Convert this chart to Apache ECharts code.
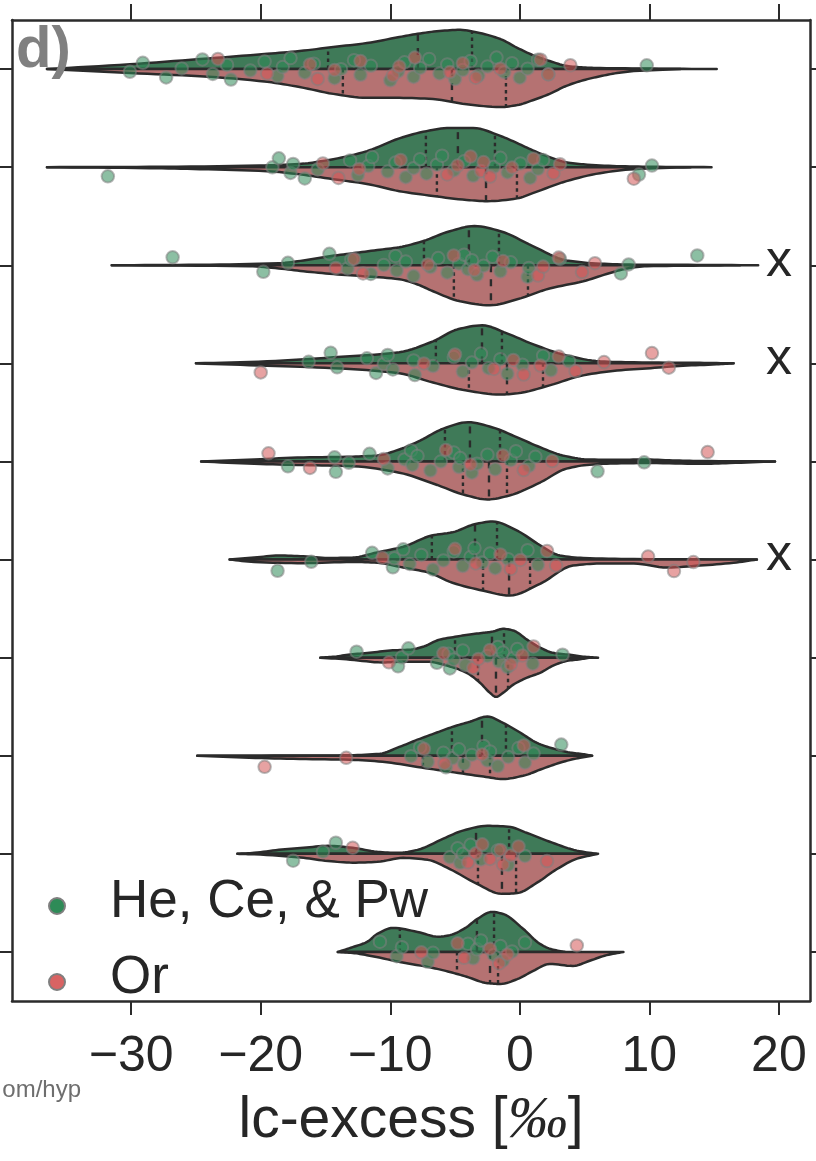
<!DOCTYPE html>
<html><head><meta charset="utf-8">
<script src="https://cdn.jsdelivr.net/npm/echarts@6/dist/echarts.min.js"></script>
<style>html,body{margin:0;padding:0;background:#fff}#c{width:816px;height:1161px}</style>
</head><body><div id="c"></div>
<script>
// ---------------- data ----------------
const rowNames = ['r1','r2','r3','r4','r5','r6','r7','r8','r9','r10']; // row labels are cropped in the original
const xTicks = [-30, -20, -10, 0, 10, 20];
const groupNames = ['He, Ce, & Pw', 'Or'];
const markedRows = [2, 3, 5];   // rows flagged with an "x"
const markValue = 20;

// violin density profiles: [lc-excess, relative density]
const heProfiles = [
 [[-36.5,0],[-30.1,0.12],[-24.7,0.25],[-19.5,0.38],[-17.0,0.45],[-14.4,0.55],[-11.8,0.65],[-9.3,0.8],[-7.9,0.88],[-6.2,0.95],[-4.6,0.98],[-3.1,0.9],[-1.5,0.75],[-0.2,0.53],[1.0,0.35],[2.3,0.2],[3.6,0.08],[4.9,0.04],[6.2,0.025],[10.1,0.012],[15.2,0]],
 [[-36.5,0],[-28.6,0.008],[-20.1,0.04],[-17.0,0.08],[-14.4,0.2],[-11.8,0.4],[-9.3,0.72],[-7.2,0.9],[-5.4,0.98],[-3.6,0.98],[-1.5,0.78],[-0.2,0.6],[1.0,0.42],[2.3,0.25],[3.6,0.12],[4.9,0.07],[7.5,0.025],[10.1,0.01],[14.8,0]],
 [[-31.5,0],[-24.7,0.012],[-18.6,0.05],[-16.7,0.12],[-14.8,0.22],[-12.9,0.3],[-11.0,0.38],[-9.3,0.45],[-7.5,0.6],[-5.4,0.85],[-3.5,0.98],[-1.5,0.85],[1.0,0.48],[3.6,0.12],[6.2,0.04],[8.8,0.015],[13.0,0.01],[18.4,0]],
 [[-25.0,0],[-19.5,0.05],[-14.4,0.15],[-9.3,0.28],[-6.7,0.55],[-4.8,0.85],[-2.9,0.95],[-1.0,0.75],[1.0,0.48],[3.6,0.2],[6.2,0.05],[8.8,0.025],[13.9,0.012],[16.5,0]],
 [[-24.6,0],[-20.5,0.05],[-16.7,0.1],[-12.9,0.12],[-11.0,0.15],[-9.3,0.3],[-7.7,0.52],[-5.9,0.82],[-4.0,0.98],[-2.1,0.85],[-0.2,0.6],[1.6,0.35],[3.3,0.15],[5.2,0.05],[7.5,0.04],[9.5,0.05],[11.8,0.025],[13.9,0.012],[19.7,0]],
 [[-22.4,0],[-20.5,0.05],[-18.6,0.1],[-16.7,0.08],[-14.8,0.04],[-12.9,0.05],[-11.0,0.18],[-9.0,0.32],[-6.8,0.6],[-5.2,0.68],[-3.5,0.88],[-2.1,0.95],[-0.2,0.72],[1.6,0.35],[3.1,0.1],[4.9,0.04],[8.8,0.012],[18.3,0]],
 [[-15.4,0],[-14.3,0.025],[-13.1,0.08],[-11.6,0.12],[-10.0,0.18],[-8.5,0.2],[-7.4,0.28],[-6.2,0.45],[-5.0,0.52],[-3.85,0.58],[-2.8,0.62],[-2.1,0.65],[-1.3,0.72],[-0.53,0.68],[0.56,0.45],[1.56,0.25],[2.57,0.12],[3.88,0.07],[4.88,0.025],[6.04,0]],
 [[-24.9,0],[-17.0,0.005],[-13.1,0.012],[-10.8,0.05],[-9.3,0.22],[-7.9,0.4],[-6.4,0.58],[-5.2,0.72],[-3.85,0.85],[-2.5,0.98],[-1.3,0.82],[0.02,0.58],[1.33,0.32],[2.57,0.18],[3.88,0.08],[4.88,0.04],[5.58,0]],
 [[-21.8,0],[-20.5,0.025],[-18.6,0.1],[-16.7,0.15],[-14.8,0.2],[-12.9,0.15],[-11.0,0.05],[-9.4,0.025],[-7.9,0.1],[-5.9,0.38],[-4.4,0.58],[-2.5,0.7],[-0.9,0.68],[0.56,0.52],[2.5,0.28],[4.4,0.08],[5.9,0]],
 [[-14.05,0],[-12.9,0.12],[-11.8,0.25],[-11.0,0.45],[-9.8,0.6],[-7.9,0.5],[-6.3,0.38],[-5.4,0.42],[-4.2,0.6],[-3.3,0.82],[-2.15,1.0],[-1.3,0.95],[0.25,0.58],[1.56,0.2],[2.33,0.08],[3.26,0.012],[3.5,0]]
];
const orProfiles = [
 [[-36.5,0],[-30.1,0.1],[-24.7,0.18],[-19.5,0.32],[-17.0,0.45],[-14.4,0.62],[-11.8,0.72],[-9.3,0.72],[-6.7,0.75],[-4.1,0.88],[-1.5,0.95],[-0.2,0.9],[1.0,0.78],[2.3,0.62],[3.6,0.42],[4.9,0.28],[6.2,0.18],[7.5,0.1],[8.8,0.05],[12.4,0]],
 [[-36.5,0],[-28.6,0.025],[-24.7,0.05],[-19.5,0.1],[-17.0,0.18],[-14.4,0.3],[-11.8,0.42],[-9.3,0.6],[-6.7,0.72],[-4.1,0.82],[-2.5,0.85],[-0.2,0.78],[1.0,0.65],[3.6,0.35],[6.2,0.15],[8.8,0.05],[13.2,0]],
 [[-31.5,0],[-20.9,0.025],[-18.6,0.08],[-16.7,0.15],[-14.4,0.22],[-11.8,0.28],[-9.3,0.35],[-7.9,0.48],[-6.7,0.65],[-4.6,0.9],[-2.3,1.0],[-0.2,0.85],[2.3,0.58],[4.9,0.4],[6.7,0.22],[8.3,0.08],[9.8,0.025],[13.9,0.008],[17.0,0]],
 [[-25.0,0],[-19.5,0.06],[-14.4,0.12],[-9.3,0.25],[-6.7,0.48],[-4.1,0.68],[-1.5,0.78],[-0.2,0.75],[2.3,0.55],[4.9,0.3],[7.5,0.18],[10.1,0.12],[12.6,0.06],[15.2,0.025],[16.5,0]],
 [[-24.6,0],[-20.5,0.06],[-16.7,0.09],[-12.9,0.12],[-9.3,0.28],[-6.7,0.55],[-4.1,0.85],[-2.5,0.95],[-0.8,0.85],[1.6,0.52],[3.6,0.18],[5.4,0.08],[7.5,0.05],[10.1,0.04],[13.9,0.06],[16.2,0.04],[19.7,0]],
 [[-22.4,0],[-20.5,0.06],[-16.7,0.09],[-12.9,0.06],[-11.0,0.08],[-9.0,0.2],[-7.1,0.32],[-5.2,0.58],[-2.8,0.78],[-0.8,0.9],[1.6,0.6],[4.1,0.15],[6.2,0.1],[8.8,0.1],[11.4,0.2],[13.9,0.15],[16.5,0.08],[18.3,0]],
 [[-15.4,0],[-13.1,0.05],[-10.6,0.12],[-9.0,0.1],[-7.2,0.1],[-5.4,0.22],[-4.1,0.38],[-3.1,0.62],[-2.3,0.88],[-1.84,0.98],[-1.3,0.88],[-0.53,0.68],[0.56,0.5],[1.56,0.38],[2.57,0.2],[3.65,0.08],[4.65,0.04],[5.43,0]],
 [[-24.9,0],[-20.9,0.05],[-17.0,0.08],[-13.1,0.1],[-10.6,0.15],[-7.9,0.28],[-5.4,0.4],[-2.8,0.52],[-1.3,0.58],[0.25,0.5],[1.79,0.32],[3.34,0.15],[4.65,0.05],[5.58,0]],
 [[-21.8,0],[-20.5,0.012],[-16.7,0.1],[-14.8,0.18],[-12.9,0.22],[-11.0,0.2],[-9.0,0.1],[-7.1,0.15],[-5.4,0.38],[-3.3,0.75],[-1.4,1.0],[-0.2,0.98],[1.33,0.72],[2.87,0.38],[4.42,0.12],[5.66,0.025],[6.04,0]],
 [[-14.05,0],[-12.9,0.025],[-11.8,0.08],[-9.26,0.25],[-6.7,0.4],[-5.4,0.5],[-4.1,0.62],[-2.5,0.78],[-1.5,0.8],[-0.2,0.68],[1.0,0.48],[2.3,0.3],[4.1,0.35],[5.4,0.22],[6.7,0.08],[8.0,0]]
];

// quartiles [q1, median, q3]
const heQuartiles = [[-14.8,-7.87,-3.69],[-7.25,-4.78,-1.92],[-7.4,-3.93,-1.61],[-6.48,-2.92,-1.38],[-5.78,-3.85,-1.53],[-6.79,-3.46,-1.76],[-5.0,-2.15,-1.22],[-5.24,-2.92,-1.07],[-9.41,-3.38,-0.83],[-9.26,-3.31,-1.99]];
const orQuartiles = [[-13.66,-5.24,-1.07],[-6.4,-2.61,-0.22],[-5.09,-2.23,0.63],[-3.93,-0.99,1.79],[-4.39,-2.38,-0.99],[-2.84,-0.83,0.79],[-3.23,-1.84,-0.91],[-7.48,-4.39,-2.3],[-3.23,-1.38,-0.29],[-4.85,-2.3,-1.68]];

// individual observations
const hePoints = [
 [-30.1,-29.1,-27.3,-26.1,-24.5,-23.7,-22.6,-22.3,-20.8,-19.7,-18.7,-18.3,-17.7,-16.6,-15.9,-14.3,-13.8,-12.8,-12.3,-11.5,-10.0,-9.4,-8.9,-8.2,-7.7,-7.0,-6.2,-5.6,-5.0,-4.4,-3.8,-3.2,-2.5,-1.8,-1.2,-0.6,0.0,0.6,1.4,2.2,9.8],
 [-31.8,-19.1,-18.6,-17.7,-17.5,-16.6,-15.6,-13.1,-12.5,-11.7,-11.4,-10.2,-9.6,-8.8,-8.2,-7.7,-7.2,-6.4,-6.0,-5.1,-4.3,-3.6,-2.0,-1.5,-0.95,0.05,0.8,1.4,1.8,9.2,10.2],
 [-26.8,-19.8,-17.9,-14.7,-13.3,-13.0,-11.5,-10.5,-9.6,-9.5,-8.8,-8.2,-6.9,-6.3,-5.6,-4.7,-4.3,-4.0,-3.7,-3.3,-2.8,-2.1,-1.5,-0.7,0.6,0.7,3.1,7.8,8.4,13.7],
 [-16.3,-14.6,-14.1,-11.8,-11.1,-10.5,-10.2,-9.8,-8.2,-8.1,-6.7,-5.1,-4.4,-3.7,-3.0,-2.4,-1.5,-0.95,0.2,1.8,2.4,3.8],
 [-17.9,-14.3,-14.2,-13.2,-11.6,-10.2,-8.9,-8.4,-8.3,-7.9,-6.9,-6.1,-5.1,-4.7,-4.6,-3.7,-3.3,-2.5,-1.9,-0.7,-0.3,0.7,1.2,6.0,9.6],
 [-18.7,-16.1,-11.4,-9.8,-9.7,-9.0,-8.5,-7.6,-6.7,-5.9,-5.1,-4.4,-3.8,-3.5,-2.9,-2.3,-1.9,-0.9,0.6,1.4],
 [-12.6,-9.4,-9.1,-8.6,-6.4,-5.5,-5.4,-5.1,-4.4,-4.2,-2.5,-1.7,-1.6,-1.3,-0.95,-0.5,-0.2,1.0,3.3],
 [-8.4,-7.7,-7.1,-5.9,-5.7,-5.2,-4.7,-4.3,-3.7,-2.8,-2.5,-2.3,-1.7,-0.9,-0.1,0.4,1.06,3.2],
 [-17.5,-15.2,-14.2,-5.4,-4.8,-4.6,-4.4,-3.8,-3.0,-1.7,-0.9,0.4],
 [-10.8,-9.5,-9.1,-7.1,-6.7,-4.0,-3.6,-3.3,-3.0,-2.0,-1.5,-1.3,-0.6,0.4]
];
const orPoints = [
 [-23.3,-19.5,-16.2,-15.6,-14.3,-12.3,-9.8,-9.3,-8.1,-5.4,-4.4,-3.4,-1.5,1.6,2.2,3.9],
 [-15.2,-14.0,-12.4,-9.2,-5.6,-4.8,-3.8,-3.0,-2.8,-2.3,-0.6,1.06,2.6,3.1,8.8],
 [-14.2,-12.8,-12.1,-7.1,-5.1,-3.5,-1.3,1.4,1.8,3.0,4.8,5.8],
 [-20.0,-7.4,-5.0,-2.0,-0.5,0.3,1.6,3.0,4.3,6.5,10.2,11.5],
 [-19.4,-16.2,-10.5,-5.7,-3.8,-1.3,0.3,2.5,14.5],
 [-10.6,-5.0,-3.4,-1.5,-0.7,0.05,2.1,2.8,9.9,11.9,13.4],
 [-10.1,-5.9,-3.6,-3.2,-2.3,-0.7,0.2,1.06],
 [-19.7,-13.4,-7.4,-5.8,-2.9,0.3],
 [-12.9,-4.0,-3.4,-2.9,-2.3,-1.5,-1.3,-0.7,-0.1,2.1],
 [-7.6,-4.8,-4.3,-2.3,-1.6,-0.95,4.4]
];

// ---------------- styling constants ----------------
const GREEN_FILL = '#3f7a58', RED_FILL = '#b57272';
const GREEN_DOT = '#2e8b57', RED_DOT = '#d45656';
const INK = '#2b2b2b', TEXT = '#262626';
const HALF = 0.408;          // violin half-height for density 1, in row units
const JIT = 0.12;            // strip jitter half-range, in row units
const FONT = '"Liberation Sans", Arial, Helvetica, sans-serif';

// monotone cubic evaluation of a profile
function tangents(p) {
  const n = p.length, h = [], m = [], t = new Array(n).fill(0);
  for (let i = 0; i < n - 1; i++) { h[i] = p[i+1][0] - p[i][0]; m[i] = (p[i+1][1] - p[i][1]) / h[i]; }
  t[0] = m[0]; t[n-1] = m[n-2];
  for (let i = 1; i < n - 1; i++) {
    if (m[i-1] * m[i] <= 0) t[i] = 0;
    else { const w1 = 2*h[i] + h[i-1], w2 = h[i] + 2*h[i-1]; t[i] = (w1 + w2) / (w1 / m[i-1] + w2 / m[i]); }
  }
  return { h, t };
}
function hermite(p, tg, i, s) {
  const h = tg.h[i], y0 = p[i][1], y1 = p[i+1][1], t0 = tg.t[i], t1 = tg.t[i+1];
  const s2 = s*s, s3 = s2*s;
  return Math.max(0, (2*s3-3*s2+1)*y0 + (s3-2*s2+s)*h*t0 + (-2*s3+3*s2)*y1 + (s3-s2)*h*t1);
}
function densify(p) {
  const tg = tangents(p), out = [];
  for (let i = 0; i < p.length - 1; i++) {
    const steps = 8;
    for (let k = 0; k < steps; k++) { const s = k / steps; out.push([p[i][0] + s*tg.h[i], hermite(p, tg, i, s)]); }
  }
  out.push(p[p.length-1]);
  return out;
}
function densityAt(p, v) {
  const tg = tangents(p);
  for (let i = 0; i < p.length - 1; i++) {
    if (v >= p[i][0] && v <= p[i+1][0]) return hermite(p, tg, i, (v - p[i][0]) / tg.h[i]);
  }
  return 0;
}

function violinRenderer(profiles, quartiles, sign, fill) {
  return function (params, api) {
    const row = api.value(1);
    const prof = profiles[row];
    const pts = densify(prof).map(d => api.coord([d[0], row + sign * d[1] * HALF]));
    pts.push(api.coord([prof[prof.length-1][0], row]));
    pts.push(api.coord([prof[0][0], row]));
    const children = [{
      type: 'polygon', shape: { points: pts },
      style: { fill: fill, stroke: INK, lineWidth: 2.5, lineJoin: 'round' }
    }];
    quartiles[row].forEach((q, j) => {
      const d = densityAt(prof, q);
      const a = api.coord([q, row]), b = api.coord([q, row + sign * d * HALF]);
      children.push({
        type: 'line', shape: { x1: a[0], y1: a[1], x2: b[0], y2: b[1] },
        style: { stroke: INK, lineWidth: 2.4, lineDash: j === 1 ? [7, 7] : [3.5, 3.5] }
      });
    });
    return { type: 'group', children };
  };
}

// deterministic low-discrepancy jitter for the strip points
function jitter(row, i, phase) {
  const u = ((i + 1) * 0.6180339887 + row * 0.2718 + phase) % 1;
  return (u - 0.5) * 2 * JIT;
}
function stripData(points, phase) {
  const out = [];
  points.forEach((vals, row) => vals.forEach((v, i) => out.push([v, row + jitter(row, i, phase)])));
  return out;
}

const rowIdx = rowNames.map((_, i) => [0, i]);
const yTicks = rowNames.map((_, i) => i);
const minus = v => String(v).replace('-', '\u2212');

function yAxisCfg(pos) {
  return {
    type: 'value', min: -0.5, max: 9.5, inverse: true, position: pos,
    axisLine: { show: true, onZero: false, lineStyle: { color: INK, width: 2.5 } },
    axisTick: { show: true, customValues: yTicks, length: 12, lineStyle: { color: INK, width: 2 } },
    axisLabel: { show: false }, splitLine: { show: false }
  };
}

const legendY = [904, 980];
const legendColors = [GREEN_DOT, '#d96363'];
const legendGraphics = [];
groupNames.forEach((name, i) => {
  legendGraphics.push({ type: 'circle', z: 100, shape: { cx: 57, cy: legendY[i] + 2, r: 8 },
    style: { fill: legendColors[i], stroke: '#7f7f7f', lineWidth: 2 } });
  legendGraphics.push({ type: 'text', z: 100, x: 110, y: legendY[i] - 2,
    style: { text: name, font: '53px ' + FONT, fill: TEXT, textVerticalAlign: 'middle' } });
});

const option = {
  animation: false,
  backgroundColor: '#fff',
  grid: { left: 12, right: 6, top: 20, bottom: 160, containLabel: false },
  xAxis: [{
    type: 'value', min: -39.2, max: 22.4, position: 'bottom',
    axisLine: { show: true, onZero: false, lineStyle: { color: INK, width: 2.5 } },
    axisTick: { show: true, customValues: xTicks, length: 14, lineStyle: { color: INK, width: 2 } },
    axisLabel: { customValues: xTicks, formatter: minus, fontSize: 50, fontFamily: FONT, color: TEXT, margin: 31 },
    splitLine: { show: false },
    name: 'lc-excess [{p|\u2030}]', nameLocation: 'middle', nameGap: 90,
    nameTextStyle: {
      fontSize: 57, fontFamily: FONT, color: TEXT, verticalAlign: 'top',
      rich: { p: { fontSize: 60, fontFamily: '"Liberation Serif", "DejaVu Serif", serif', fontStyle: 'italic', color: TEXT } }
    }
  }, {
    type: 'value', min: -39.2, max: 22.4, position: 'top',
    axisLine: { show: true, onZero: false, lineStyle: { color: INK, width: 2.5 } },
    axisTick: { show: true, customValues: xTicks, length: 16, lineStyle: { color: INK, width: 2 } },
    axisLabel: { show: false }, splitLine: { show: false }
  }],
  yAxis: [yAxisCfg('left'), yAxisCfg('right')],
  graphic: [
    { type: 'text', left: 16, top: 22, z: 100,
      style: { text: 'd)', font: 'bold 58px ' + FONT, fill: '#808080' } },
    { type: 'text', x: 81, y: 1090, z: 100,
      style: { text: 'om/hyp', font: '24px ' + FONT, fill: '#6e6e6e', textAlign: 'right', textVerticalAlign: 'middle' } }
  ].concat(legendGraphics),
  series: [
    { type: 'custom', name: 'he-violin', data: rowIdx, renderItem: violinRenderer(heProfiles, heQuartiles, -1, GREEN_FILL), z: 2, silent: true },
    { type: 'custom', name: 'or-violin', data: rowIdx, renderItem: violinRenderer(orProfiles, orQuartiles, 1, RED_FILL), z: 2, silent: true },
    { type: 'scatter', name: groupNames[0], data: stripData(hePoints, 0.0), symbol: 'circle', symbolSize: 12.5, z: 3,
      itemStyle: { color: GREEN_DOT, borderColor: '#808080', borderWidth: 2, opacity: 0.55 } },
    { type: 'scatter', name: groupNames[1], data: stripData(orPoints, 0.45), symbol: 'circle', symbolSize: 12.5, z: 3,
      itemStyle: { color: RED_DOT, borderColor: '#808080', borderWidth: 2, opacity: 0.55 } },
    { type: 'custom', name: 'marks', data: markedRows.map(r => [markValue, r]), z: 4, silent: true,
      renderItem: function (params, api) {
        const p = api.coord([api.value(0), api.value(1)]);
        return { type: 'text', x: p[0], y: p[1] - 4,
          style: { text: 'x', font: '52px ' + FONT, fill: TEXT, textAlign: 'center', textVerticalAlign: 'middle' } };
      } }
  ]
};

const chart = echarts.init(document.getElementById('c'), null, { renderer: 'canvas' });
chart.setOption(option);
</script>
</body></html>
